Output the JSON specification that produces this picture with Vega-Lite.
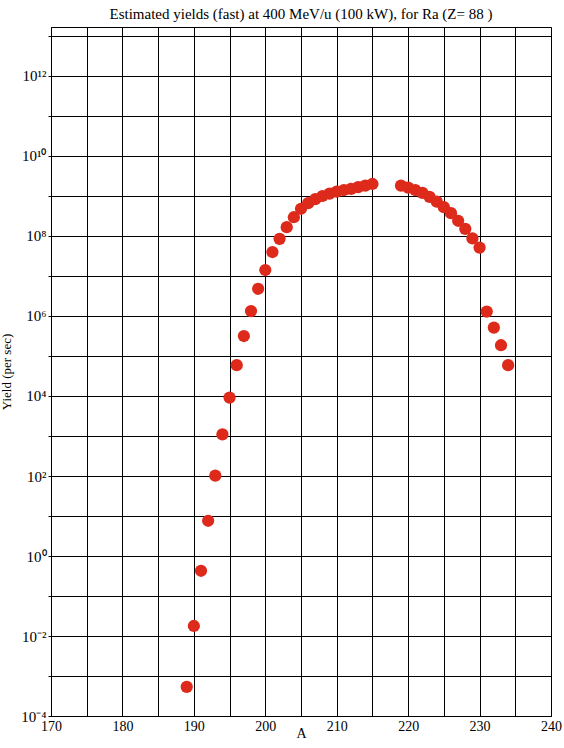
{
  "$schema": "https://vega.github.io/schema/vega-lite/v6.json",
  "padding": {"left": 0, "top": 1, "right": 5, "bottom": 5},
  "background": "white",
  "config": {
    "font": "Liberation Serif",
    "view": {"stroke": "#000", "strokeWidth": 1},
    "axis": {
      "domainColor": "#000",
      "tickColor": "#000",
      "gridColor": "#000",
      "gridOpacity": 1,
      "gridWidth": 1,
      "labelColor": "#000",
      "titleColor": "#000",
      "labelFont": "Liberation Serif",
      "titleFont": "Liberation Serif",
      "titleFontWeight": "normal",
      "labelFontSize": 14,
      "titleFontSize": 13
    }
  },
  "bounds": "flush",
  "spacing": 0,
  "vconcat": [
    {
      "width": 500,
      "height": 26,
      "data": {"values": [{"t": "Estimated yields (fast) at 400 MeV/u (100 kW), for Ra (Z= 88 )"}]},
      "mark": {"type": "text", "fontSize": 15, "color": "#000", "font": "Liberation Serif", "baseline": "middle"},
      "encoding": {"text": {"field": "t", "type": "nominal"}}
    },
    {
      "width": 500,
      "height": 689,
      "data": {"values": [
        {"A": 189, "Y": 5.37e-4},
        {"A": 190, "Y": 0.0178},
        {"A": 191, "Y": 0.427},
        {"A": 192, "Y": 7.59},
        {"A": 193, "Y": 102},
        {"A": 194, "Y": 1096},
        {"A": 195, "Y": 9120},
        {"A": 196, "Y": 5.89e4},
        {"A": 197, "Y": 3.16e5},
        {"A": 198, "Y": 1.33e6},
        {"A": 199, "Y": 4.79e6},
        {"A": 200, "Y": 1.41e7},
        {"A": 201, "Y": 3.98e7},
        {"A": 202, "Y": 8.51e7},
        {"A": 203, "Y": 1.66e8},
        {"A": 204, "Y": 2.95e8},
        {"A": 205, "Y": 4.79e8},
        {"A": 206, "Y": 6.61e8},
        {"A": 207, "Y": 8.32e8},
        {"A": 208, "Y": 1.0e9},
        {"A": 209, "Y": 1.15e9},
        {"A": 210, "Y": 1.29e9},
        {"A": 211, "Y": 1.41e9},
        {"A": 212, "Y": 1.51e9},
        {"A": 213, "Y": 1.66e9},
        {"A": 214, "Y": 1.82e9},
        {"A": 215, "Y": 2.0e9},
        {"A": 219, "Y": 1.82e9},
        {"A": 220, "Y": 1.62e9},
        {"A": 221, "Y": 1.41e9},
        {"A": 222, "Y": 1.20e9},
        {"A": 223, "Y": 9.55e8},
        {"A": 224, "Y": 7.24e8},
        {"A": 225, "Y": 5.25e8},
        {"A": 226, "Y": 3.72e8},
        {"A": 227, "Y": 2.40e8},
        {"A": 228, "Y": 1.51e8},
        {"A": 229, "Y": 8.71e7},
        {"A": 230, "Y": 5.13e7},
        {"A": 231, "Y": 1.29e6},
        {"A": 232, "Y": 5.13e5},
        {"A": 233, "Y": 1.86e5},
        {"A": 234, "Y": 5.89e4}
      ]},
      "mark": {"type": "circle", "size": 150, "color": "#dd2a1b", "opacity": 1},
      "encoding": {
        "x": {
          "field": "A",
          "type": "quantitative",
          "scale": {"domain": [170, 240], "nice": false, "zero": false},
          "axis": {
            "title": "A",
            "titleFontSize": 14,
            "titlePadding": -7,
            "values": [170, 175, 180, 185, 190, 195, 200, 205, 210, 215, 220, 225, 230, 235, 240],
            "labelExpr": "datum.value % 10 == 0 ? datum.label : ''",
            "format": "d",
            "tickSize": 0,
            "labelPadding": 3,
            "labelFlush": false,
            "labelOverlap": false,
            "grid": true
          }
        },
        "y": {
          "field": "Y",
          "type": "quantitative",
          "scale": {"type": "log", "domain": [1e-4, 1.6788e13], "nice": false},
          "axis": {
            "title": "Yield (per sec)",
            "titlePadding": 7,
            "values": [1e-4, 1e-3, 1e-2, 1e-1, 1, 10, 100, 1e3, 1e4, 1e5, 1e6, 1e7, 1e8, 1e9, 1e10, 1e11, 1e12, 1e13],
            "labelExpr": "['10⁻⁴','','10⁻²','','10⁰','','10²','','10⁴','','10⁶','','10⁸','','10¹⁰','','10¹²',''][round(log(datum.value)/LN10)+4]",
            "labelFontSize": 15,
            "tickSize": 3,
            "labelPadding": 2,
            "labelFlush": false,
            "labelOverlap": false,
            "grid": true
          }
        }
      }
    }
  ]
}
